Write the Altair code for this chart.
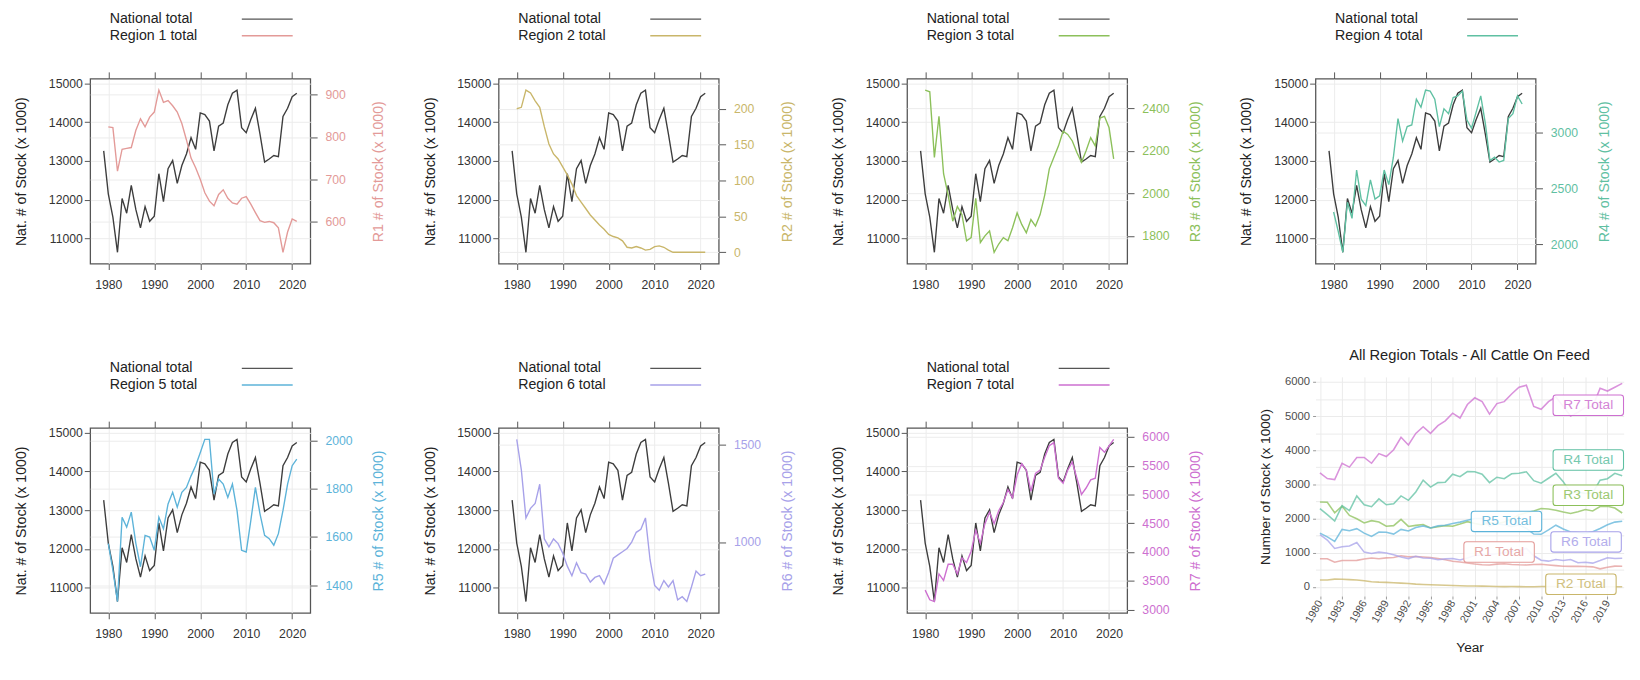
import altair as alt
import pandas as pd

FONT = "Liberation Sans"

# ---------------- data ----------------
years_nat = list(range(1979, 2022))
national = [13260, 12150, 11550, 10640, 12030, 11650, 12370, 11740, 11270, 11820,
            11440, 11570, 12670, 11950, 12800, 13010, 12420, 12880, 13180, 13600,
            13300, 14240, 14200, 14030, 13260, 13900, 13980, 14450, 14750, 14830,
            13860, 13730, 14070, 14360, 13690, 12970, 13050, 13140, 13110, 14150,
            14360, 14660, 14750]

years_reg = list(range(1980, 2022))
r1 = [824, 822, 719, 771, 773, 775, 816, 843, 824, 847,
      859, 911, 882, 886, 874, 859, 832, 793, 750, 727,
      700, 668, 648, 637, 664, 675, 655, 644, 641, 655,
      659, 641, 621, 602, 598, 600, 597, 585, 527, 575,
      606, 600]
r2 = [200, 202, 226, 222, 211, 202, 175, 151, 137, 130,
      119, 108, 95, 79, 70, 61, 52, 45, 38, 32,
      25, 22, 20, 16, 7, 6, 8, 6, 3, 4,
      8, 9, 7, 3, 0, 0, 0, 0, 0, 0,
      0, 0]
r3 = [2485, 2477, 2169, 2362, 2092, 1992, 1869, 1938, 1900, 1777,
      1792, 1977, 1769, 1800, 1823, 1723, 1762, 1792, 1777, 1838,
      1908, 1854, 1815, 1877, 1846, 1900, 1992, 2115, 2169, 2223,
      2292, 2277, 2246, 2192, 2146, 2200, 2262, 2223, 2354, 2362,
      2308, 2162]
r4 = [2288, 2115, 1928, 2375, 2231, 2663, 2403, 2346, 2576, 2403,
      2432, 2663, 2533, 2778, 3124, 2922, 3052, 3066, 3297, 3225,
      3378, 3369, 3297, 3052, 3210, 3167, 3311, 3326, 3369, 3110,
      3037, 3181, 3326, 3081, 2749, 2778, 2735, 2749, 3124, 3167,
      3326, 3254]
r5 = [1573, 1463, 1333, 1682, 1641, 1703, 1573, 1477, 1607, 1600,
      1545, 1682, 1634, 1737, 1785, 1723, 1785, 1805, 1853, 1895,
      1949, 2004, 2004, 1778, 1840, 1819, 1764, 1819, 1710, 1545,
      1538, 1668, 1805, 1696, 1607, 1593, 1566, 1614, 1710, 1819,
      1895, 1922]
r6 = [1528, 1371, 1124, 1173, 1198, 1297, 1016, 975, 1016, 992,
      942, 876, 827, 893, 843, 835, 794, 818, 827, 785,
      843, 917, 934, 950, 967, 1000, 1050, 1066, 1124, 909,
      777, 752, 802, 769, 802, 703, 719, 694, 769, 851,
      827, 835]
r7 = [3338, 3170, 3140, 3620, 3507, 3789, 3789, 3620, 3902, 3817,
      4015, 4381, 4156, 4494, 4691, 4494, 4720, 4861, 5086, 4945,
      5340, 5537, 5425, 5058, 5368, 5425, 5650, 5848, 5904, 5284,
      5199, 5425, 5566, 5284, 5002, 5114, 5255, 5284, 5819, 5735,
      5848, 5960]
regions = [r1, r2, r3, r4, r5, r6, r7]
region_codes = ["R1", "R2", "R3", "R4", "R5", "R6", "R7"]

right_ticks = [[600, 700, 800, 900], [0, 50, 100, 150, 200], [1800, 2000, 2200, 2400],
               [2000, 2500, 3000], [1400, 1600, 1800, 2000], [1000, 1500],
               [3000, 3500, 4000, 4500, 5000, 5500, 6000]]
nat_ticks = [11000, 12000, 13000, 14000, 15000]
decade_ticks = [1980, 1990, 2000, 2010, 2020]
all_year_ticks = list(range(1980, 2020, 3))
all_stock_ticks = list(range(0, 6001, 500))

# labels of the summary panel
label_codes = ["R7", "R4", "R3", "R5", "R6", "R1", "R2"]
label_years = [2016.4, 2016.4, 2016.4, 2005.3, 2016.1, 2004.3, 2015.4]
label_values = [5319, 3714, 2682, 1917, 1315, 1020, 74]

# ---------------- styling ----------------
NAT = "#3d3d3d"
colors = ["#e39a98", "#c9b66a", "#8cc05a", "#5fc0a2", "#5cb3d9", "#a7a1e9", "#cd6fd0"]
GRID = "#ececec"
TICK = "#555555"
W, H = 225, 189


def padded(vals, f=0.07):
    lo, hi = min(vals), max(vals)
    p = (hi - lo) * f
    return [lo - p, hi + p]


def lattice_panel(k):
    vals = regions[k]
    col = colors[k]
    nat_df = pd.DataFrame({"Year": years_nat, "Stock": national})
    reg_df = pd.DataFrame({"Year": years_reg, "Stock": vals})
    xs = alt.Scale(domain=padded(years_nat), nice=False, zero=False)

    nat = alt.Chart(nat_df).mark_line(color=NAT, strokeWidth=1.4).encode(
        x=alt.X("Year:Q", scale=xs, axis=alt.Axis(
            orient="bottom", values=decade_ticks, format="d", title=None, domain=False,
            grid=True, gridColor=GRID, tickColor=TICK, tickSize=6, labelPadding=9,
            labelFontSize=12.5, labelColor="#333333", labelFont=FONT)),
        y=alt.Y("Stock:Q", scale=alt.Scale(domain=padded(national), nice=False, zero=False),
                axis=alt.Axis(
                    orient="left", values=nat_ticks, format="d",
                    title="Nat. # of Stock (x 1000)", titleX=-70, titleY=H / 2,
                    titleAngle=270, titleAlign="center", titleBaseline="middle",
                    titleFontSize=14.5, titleFontWeight="normal", titleColor="#222222",
                    titleFont=FONT, domain=False, grid=True, gridColor=GRID,
                    tickColor=TICK, tickSize=6, labelPadding=2, labelFontSize=12.5,
                    labelColor="#333333", labelFont=FONT)),
    )
    reg = alt.Chart(reg_df).mark_line(color=col, strokeWidth=1.4).encode(
        x=alt.X("Year:Q", scale=xs, axis=alt.Axis(
            orient="top", values=decade_ticks, labels=False, title=None, domain=False,
            grid=False, tickColor=TICK, tickSize=7)),
        y=alt.Y("Stock:Q", scale=alt.Scale(domain=padded(vals), nice=False, zero=False),
                axis=alt.Axis(
                    orient="right", values=right_ticks[k], format="d",
                    title=f"R{k + 1} # of Stock (x 1000)", titleX=70, titleY=H / 2,
                    titleAngle=270, titleAlign="center", titleBaseline="middle",
                    titleFontSize=14.5, titleFontWeight="normal", titleColor=col,
                    titleFont=FONT, domain=False, grid=True, gridColor=GRID,
                    tickColor=TICK, tickSize=7, labelPadding=8, labelFontSize=12.5,
                    labelColor=col, labelFont=FONT)),
    )
    one = pd.DataFrame({"k": [0]})
    t1 = alt.Chart(one).mark_text(text="National total", align="left", baseline="middle",
                                  fontSize=14.5, font=FONT, color="#222222").encode(
        x=alt.value(20), y=alt.value(-61))
    t2 = alt.Chart(one).mark_text(text=f"Region {k + 1} total", align="left", baseline="middle",
                                  fontSize=14.5, font=FONT, color="#222222").encode(
        x=alt.value(20), y=alt.value(-44))
    l1 = alt.Chart(one).mark_rule(color="#555555", strokeWidth=1.4).encode(
        x=alt.value(155), x2=alt.value(207), y=alt.value(-61))
    l2 = alt.Chart(one).mark_rule(color=col, strokeWidth=1.4).encode(
        x=alt.value(155), x2=alt.value(207), y=alt.value(-44))
    return alt.layer(nat, reg, t1, t2, l1, l2).resolve_scale(
        x="independent", y="independent").properties(width=W, height=H)


def summary_panel():
    rows = []
    for code, vals in zip(region_codes, regions):
        for y, v in zip(years_reg, vals):
            rows.append({"Year": y, "Stock": v, "Region": code})
    long_df = pd.DataFrame(rows)
    lab_df = pd.DataFrame({"Region": label_codes, "Year": label_years, "Stock": label_values,
                           "text": [c + " Total" for c in label_codes]})
    xs = alt.Scale(domain=[1979.4, 2021.2], nice=False, zero=False)
    ys = alt.Scale(domain=[-270, 6150], nice=False, zero=False)
    cscale = alt.Scale(domain=region_codes, range=colors)
    x_axis = alt.Axis(
        values=all_year_ticks, format="d", labelAngle=300, labelAlign="right",
        labelBaseline="middle", labelFontSize=11, labelColor="#4d4d4d", labelFont=FONT,
        labelOverlap=False, labelBound=False, labelFlush=False,
        tickColor="#999999", tickSize=3, labelPadding=2, domain=False, grid=True,
        gridColor="#ebebeb", title="Year", titleY=53, titleBaseline="middle",
        titleFontSize=14, titleFontWeight="normal", titleColor="#222222", titleFont=FONT)
    y_axis = alt.Axis(
        values=all_stock_ticks, format="d",
        labelExpr="datum.value % 1000 == 0 ? datum.label : ''",
        tickOpacity={"condition": {"test": "datum.value % 1000 == 0", "value": 1}, "value": 0},
        labelOverlap=False,
        labelFontSize=11.5, labelColor="#4d4d4d", labelFont=FONT, tickColor="#999999",
        tickSize=3, labelPadding=3, domain=False, grid=True, gridColor="#ebebeb",
        title="Number of Stock (x 1000)", titleX=-51, titleY=112, titleAngle=270,
        titleAlign="center", titleBaseline="middle", titleFontSize=14,
        titleFontWeight="normal", titleColor="#222222", titleFont=FONT)

    def xe():
        return alt.X("Year:Q", scale=xs, axis=x_axis)

    def ye():
        return alt.Y("Stock:Q", scale=ys, axis=y_axis)

    lines = alt.Chart(long_df).mark_line(strokeWidth=1.6, opacity=0.75).encode(
        x=xe(), y=ye(), color=alt.Color("Region:N", scale=cscale, legend=None))
    box_path = ("M-0.92,-0.29 H0.92 Q1,-0.29 1,-0.21 V0.21 Q1,0.29 0.92,0.29 "
                "H-0.92 Q-1,0.29 -1,0.21 V-0.21 Q-1,-0.29 -0.92,-0.29 Z")
    boxes = alt.Chart(lab_df).mark_point(shape=box_path, size=72 * 72, filled=True,
                                         fill="white", fillOpacity=0.9, strokeWidth=1.1,
                                         opacity=1).encode(
        x=xe(), y=ye(),
        stroke=alt.Stroke("Region:N", scale=cscale, legend=None))
    texts = alt.Chart(lab_df).mark_text(fontSize=14, font=FONT, opacity=0.85).encode(
        x=xe(), y=ye(), text="text:N",
        color=alt.Color("Region:N", scale=cscale, legend=None))
    return alt.layer(lines, boxes, texts).properties(
        width=315, height=224,
        title=alt.TitleParams("All Region Totals - All Cattle On Feed", fontSize=15,
                              font=FONT, fontWeight="normal", color="#222222",
                              anchor="middle", offset=13.5),
        view=alt.ViewBackground(stroke="transparent"))


p = [lattice_panel(k) for k in range(7)]
p8 = summary_panel()

cols = [alt.vconcat(p[0], p[4], spacing=69),
        alt.vconcat(p[1], p[5], spacing=69),
        alt.vconcat(p[2], p[6], spacing=69),
        alt.vconcat(p[3], p8, spacing=56.75)]

chart = alt.hconcat(*cols, spacing=35.5).properties(
    padding={"left": 5, "top": -5, "right": 5, "bottom": 5},
    background="white",
).configure(font=FONT).configure_view(stroke="#555555", strokeWidth=1.3)

chart.save("out.html", embed_options={"renderer": "svg", "actions": False})
